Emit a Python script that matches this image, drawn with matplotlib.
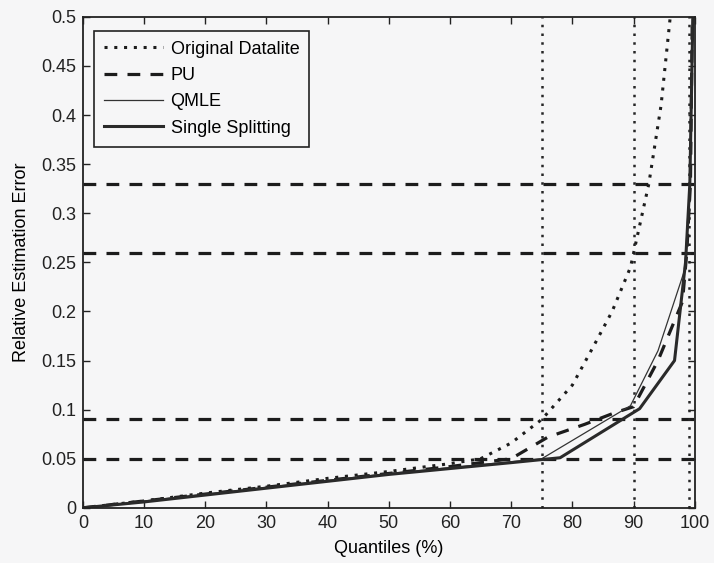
import matplotlib
matplotlib.use('Agg')
import matplotlib.pyplot as plt

# quantiles (%) and relative estimation error
q_datalite = [0, 10, 20, 30, 40, 50, 60, 65, 70, 75, 80, 83.5, 86.5, 89.5, 92.5, 94.5, 96]
e_datalite = [0, 0.007, 0.015, 0.022, 0.030, 0.037, 0.045, 0.05, 0.066, 0.09, 0.125, 0.165, 0.2, 0.245, 0.33, 0.41, 0.5]

q_pu = [0, 10, 20, 30, 40, 50, 60, 70, 76, 82, 87, 90, 94, 98, 98.7, 99.3, 99.6]
e_pu = [0, 0.007, 0.014, 0.021, 0.028, 0.035, 0.042, 0.05, 0.072, 0.085, 0.097, 0.103, 0.15, 0.21, 0.26, 0.33, 0.5]

q_qmle = [0, 10, 20, 30, 40, 50, 60, 70, 75, 89.5, 94, 98.5, 99.2, 99.6]
e_qmle = [0, 0.007, 0.014, 0.021, 0.028, 0.035, 0.041, 0.047, 0.05, 0.104, 0.16, 0.245, 0.33, 0.5]

q_single = [0, 10, 20, 30, 40, 50, 60, 70, 78, 91, 96.7, 98.5, 99.2, 99.7]
e_single = [0, 0.006, 0.013, 0.02, 0.027, 0.034, 0.04, 0.046, 0.051, 0.101, 0.15, 0.25, 0.33, 0.5]

h_levels = [0.05, 0.09, 0.26, 0.33]
v_levels = [75, 90, 99]

plt.rcParams['font.family'] = ['Liberation Sans', 'DejaVu Sans']
bg = '#f6f6f7'
ink = '#1c1c1c'

fig = plt.figure(figsize=(7.14, 5.63), dpi=100, facecolor=bg)
ax = fig.add_axes([0.116, 0.098, 0.857, 0.872], facecolor=bg)

for y in h_levels:
    ax.axhline(y, color=ink, ls=(0, (4, 3.2)), lw=2.3, zorder=1)
for x in v_levels:
    ax.axvline(x, color='#262626', ls=(0, (1, 2.5)), lw=1.8, zorder=1)

ax.plot(q_datalite, e_datalite, color=ink, ls=(0, (1, 2.2)), lw=2.2, label='Original Datalite')
ax.plot(q_pu, e_pu, color=ink, ls=(0, (4, 3.2)), lw=2.3, label='PU')
ax.plot(q_qmle, e_qmle, color='#333333', ls='-', lw=0.9, label='QMLE')
ax.plot(q_single, e_single, color='#2a2a2a', ls='-', lw=2.2, label='Single Splitting')

ax.set_xlim(0, 100)
ax.set_ylim(0, 0.5)
ax.set_xticks(range(0, 101, 10))
ax.set_yticks([0, 0.05, 0.1, 0.15, 0.2, 0.25, 0.3, 0.35, 0.4, 0.45, 0.5])
ax.set_yticklabels(['0', '0.05', '0.1', '0.15', '0.2', '0.25', '0.3', '0.35', '0.4', '0.45', '0.5'])
ax.tick_params(direction='in', top=True, right=True, labelsize=13, length=5, width=1,
               colors='#222222', pad=5)
for s in ax.spines.values():
    s.set_linewidth(1.3)
    s.set_color('#222222')

ax.set_xlabel('Quantiles (%)', fontsize=13, labelpad=6)
ax.set_ylabel('Relative Estimation Error', fontsize=13, labelpad=8)

leg = ax.legend(loc='upper left', bbox_to_anchor=(0.018, 0.972), borderaxespad=0, fontsize=13,
                frameon=True, fancybox=False, edgecolor='#222222', facecolor=bg, framealpha=1,
                handlelength=3.3, handletextpad=0.4, labelspacing=0.52, borderpad=0.55)
leg.get_frame().set_linewidth(1.2)

fig.savefig('out.png', dpi=100, facecolor=bg)
